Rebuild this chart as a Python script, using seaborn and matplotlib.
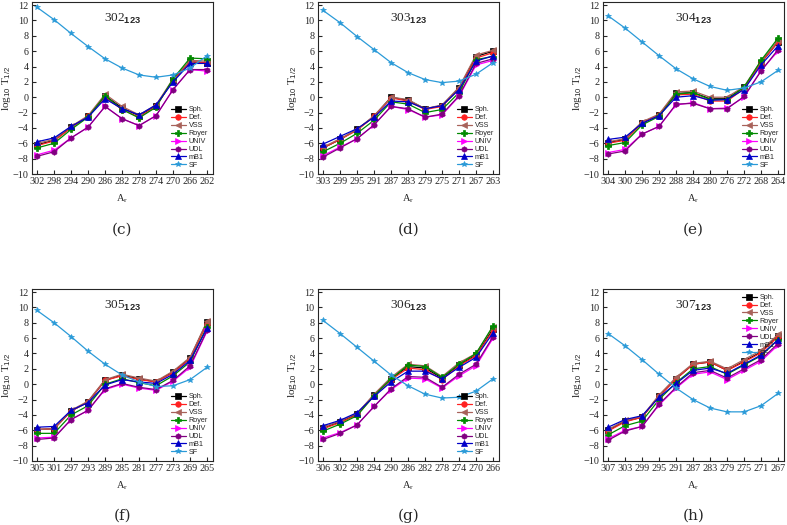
import numpy as np
import pandas as pd
import seaborn as sns
import matplotlib.pyplot as plt

models = ['Sph.', 'Def.', 'VSS', 'Royer', 'UNIV', 'UDL', 'mB1', 'SF']
colors = ['#000000', '#ff2020', '#a8625a', '#008a00', '#ff00ff', '#800080', '#0000c8', '#2a9ad8']
marks = ['s', 'o', '<', 'P', '>', 'h', '^', '*']

parents = [302, 303, 304, 305, 306, 307]
captions = ['(c)', '(d)', '(e)', '(f)', '(g)', '(h)']

# log10 T1/2 per model (A_r descending in steps of 4)
vals_302 = {
    'Sph.':  [-6.2, -5.6, -3.9, -2.5, 0.2, -1.4, -2.4, -1.1, 2.2, 4.6, 4.5],
    'Def.':  [-6.3, -5.7, -4.0, -2.5, 0.0, -1.6, -2.6, -1.2, 2.2, 4.6, 4.5],
    'VSS':   [-6.0, -5.5, -3.8, -2.4, 0.4, -1.2, -2.3, -1.0, 2.4, 4.8, 4.7],
    'Royer': [-6.6, -6.0, -4.2, -2.6, 0.2, -1.6, -2.7, -1.3, 2.4, 5.1, 5.0],
    'UNIV':  [-7.5, -6.9, -5.3, -3.9, -1.2, -2.8, -3.7, -2.4, 1.0, 3.6, 3.4],
    'UDL':   [-7.7, -7.1, -5.3, -3.9, -1.2, -2.8, -3.7, -2.4, 1.0, 3.6, 3.6],
    'mB1':   [-5.8, -5.3, -3.8, -2.6, -0.2, -1.5, -2.3, -1.0, 2.0, 4.4, 4.4],
    'SF':    [11.7, 10.1, 8.3, 6.6, 5.0, 3.8, 2.9, 2.6, 2.9, 3.8, 5.4],
}
vals_303 = {
    'Sph.':  [-6.6, -5.5, -4.2, -2.5, 0.0, -0.4, -1.5, -1.1, 1.2, 5.3, 6.0],
    'Def.':  [-6.6, -5.5, -4.3, -2.5, -0.1, -0.5, -1.6, -1.2, 1.1, 5.1, 5.8],
    'VSS':   [-6.5, -5.4, -4.2, -2.4, 0.0, -0.3, -1.5, -1.0, 1.3, 5.5, 6.1],
    'Royer': [-7.1, -6.0, -4.7, -3.0, -0.6, -0.9, -2.0, -1.6, 0.6, 4.9, 5.3],
    'UNIV':  [-7.6, -6.5, -5.4, -3.6, -1.2, -1.6, -2.6, -2.3, 0.1, 4.2, 4.8],
    'UDL':   [-7.8, -6.6, -5.4, -3.6, -1.2, -1.5, -2.6, -2.2, 0.2, 4.4, 5.0],
    'mB1':   [-6.1, -5.1, -4.1, -2.6, -0.5, -0.6, -1.5, -1.1, 1.0, 4.7, 5.4],
    'SF':    [11.3, 9.7, 7.9, 6.2, 4.5, 3.2, 2.3, 1.9, 2.1, 3.0, 4.5],
}
vals_304 = {
    'Sph.':  [-5.9, -5.5, -3.3, -2.3, 0.5, 0.6, -0.2, -0.2, 1.3, 4.5, 7.2],
    'Def.':  [-6.0, -5.6, -3.4, -2.3, 0.3, 0.4, -0.5, -0.5, 1.1, 4.5, 7.2],
    'VSS':   [-5.8, -5.4, -3.2, -2.2, 0.7, 0.8, 0.0, 0.0, 1.4, 4.7, 7.4],
    'Royer': [-6.3, -5.9, -3.6, -2.5, 0.4, 0.6, -0.3, -0.3, 1.3, 4.8, 7.7],
    'UNIV':  [-7.2, -6.8, -4.8, -3.8, -1.0, -0.7, -1.5, -1.4, 0.0, 3.5, 6.0],
    'UDL':   [-7.4, -7.0, -4.8, -3.8, -0.9, -0.8, -1.5, -1.5, 0.1, 3.4, 6.2],
    'mB1':   [-5.5, -5.2, -3.4, -2.4, 0.0, 0.2, -0.4, -0.3, 1.0, 4.2, 6.7],
    'SF':    [10.6, 9.0, 7.2, 5.4, 3.7, 2.4, 1.4, 0.9, 1.2, 2.0, 3.5],
}
vals_305 = {
    'Sph.':  [-5.9, -5.8, -3.5, -2.3, 0.5, 1.2, 0.7, 0.3, 1.6, 3.4, 8.1],
    'Def.':  [-5.9, -5.8, -3.5, -2.3, 0.5, 1.1, 0.6, 0.3, 1.5, 3.3, 7.9],
    'VSS':   [-5.9, -5.8, -3.4, -2.2, 0.6, 1.3, 0.8, 0.4, 1.7, 3.5, 8.2],
    'Royer': [-6.4, -6.4, -4.0, -2.8, 0.0, 0.7, 0.2, -0.2, 1.1, 2.9, 7.5],
    'UNIV':  [-7.0, -6.9, -4.6, -3.4, -0.7, 0.0, -0.5, -0.8, 0.4, 2.2, 6.9],
    'UDL':   [-7.2, -7.0, -4.6, -3.4, -0.6, 0.1, -0.4, -0.7, 0.5, 2.4, 7.0],
    'mB1':   [-5.6, -5.5, -3.4, -2.4, -0.1, 0.6, 0.3, 0.1, 1.3, 3.1, 7.3],
    'SF':    [9.6, 8.0, 6.2, 4.3, 2.6, 1.2, 0.3, -0.3, -0.2, 0.6, 2.2],
}
vals_306 = {
    'Sph.':  [-5.7, -4.9, -3.9, -1.4, 0.7, 2.3, 2.1, 0.8, 2.5, 3.8, 7.2],
    'Def.':  [-5.8, -5.0, -4.0, -1.5, 0.6, 2.1, 1.9, 0.6, 2.4, 3.7, 7.0],
    'VSS':   [-5.6, -4.8, -3.8, -1.3, 0.9, 2.6, 2.4, 1.0, 2.8, 4.0, 7.5],
    'Royer': [-6.1, -5.2, -4.1, -1.5, 0.7, 2.5, 2.3, 0.9, 2.6, 4.0, 7.6],
    'UNIV':  [-7.0, -6.3, -5.3, -2.9, -0.7, 0.8, 0.7, -0.5, 1.1, 2.4, 6.0],
    'UDL':   [-7.2, -6.4, -5.3, -2.9, -0.6, 1.0, 0.9, -0.4, 1.3, 2.6, 6.2],
    'mB1':   [-5.4, -4.7, -3.7, -1.6, 0.3, 1.7, 1.7, 0.7, 2.2, 3.5, 6.7],
    'SF':    [8.3, 6.6, 4.8, 3.0, 1.2, -0.2, -1.3, -1.8, -1.7, -0.9, 0.7],
}
vals_307 = {
    'Sph.':  [-6.0, -4.8, -4.3, -1.5, 0.7, 2.6, 2.9, 1.8, 3.0, 4.2, 6.3],
    'Def.':  [-6.1, -4.9, -4.3, -1.6, 0.7, 2.6, 2.9, 1.8, 2.9, 4.1, 6.2],
    'VSS':   [-5.9, -4.7, -4.2, -1.4, 0.9, 2.7, 3.0, 2.0, 3.2, 4.4, 6.5],
    'Royer': [-6.6, -5.4, -4.8, -2.0, 0.2, 2.0, 2.3, 1.3, 2.5, 3.7, 5.8],
    'UNIV':  [-7.1, -6.0, -5.5, -2.7, -0.5, 1.3, 1.6, 0.6, 1.8, 3.0, 5.1],
    'UDL':   [-7.3, -6.1, -5.5, -2.6, -0.4, 1.5, 1.8, 0.8, 2.0, 3.2, 5.3],
    'mB1':   [-5.6, -4.6, -4.1, -1.7, 0.1, 1.8, 2.1, 1.4, 2.6, 3.8, 5.8],
    'SF':    [6.6, 5.0, 3.2, 1.3, -0.5, -2.0, -3.1, -3.6, -3.6, -2.8, -1.2],
}
all_vals = [vals_302, vals_303, vals_304, vals_305, vals_306, vals_307]

sns.set_style('ticks')
plt.rcParams['font.family'] = ['Liberation Serif', 'DejaVu Serif']
plt.rcParams['mathtext.fontset'] = 'custom'
plt.rcParams['mathtext.rm'] = 'Liberation Sans'
plt.rcParams['mathtext.bf'] = 'Liberation Sans:bold'

fig = plt.figure(figsize=(7.87, 5.25), dpi=100)
W, H = 787, 525
lefts = [32, 318, 603]
tops = [2, 289]
aw, ah = 181, 172

pal = dict(zip(models, colors))
mk = dict(zip(models, marks))

for k, (par, vals) in enumerate(zip(parents, all_vals)):
    r, c = divmod(k, 3)
    ax = fig.add_axes([lefts[c] / W, 1 - (tops[r] + ah) / H, aw / W, ah / H])
    ar = [par - 4 * i for i in range(11)]
    df = pd.DataFrame([(m, a, v) for m in models for a, v in zip(ar, vals[m])],
                      columns=['model', 'Ar', 'logT'])
    sns.lineplot(data=df, x='Ar', y='logT', hue='model', style='model',
                 palette=pal, markers=mk, dashes=False, markersize=4,
                 linewidth=0.9, ax=ax, legend=True)
    for ln in ax.lines:
        ln.set_markeredgecolor(ln.get_color())
        ln.set_markeredgewidth(0.5)
    ax.set_xticks(ar)
    ax.set_xlim(par + 1.2, ar[-1] - 1.4)
    ax.set_ylim(-10, 12.4)
    ax.set_yticks(range(-10, 13, 2))
    ax.tick_params(direction='in', length=3, labelsize=7.3, width=0.8, pad=2.5)
    for s in ax.spines.values():
        s.set_linewidth(0.8)
    ax.set_xlabel(r'A$_\mathregular{r}$', fontsize=7.5, labelpad=4)
    ax.set_ylabel(r'log$_{10}$ T$_{1/2}$', fontsize=8, labelpad=0)
    ax.text(0.5, 0.9, r'$\mathregular{%d}_{\mathbf{123}}$' % par,
            transform=ax.transAxes, ha='center', va='center', fontsize=9.5)
    loc = 'upper right' if par == 307 else 'lower right'
    leg = ax.legend(loc=loc, frameon=False, handlelength=2.2,
                    labelspacing=0.12, handletextpad=0.3, borderaxespad=0.3,
                    prop={'family': 'Liberation Sans', 'size': 5.2})
    for h in leg.legend_handles:
        h.set_markeredgecolor(h.get_color())
        h.set_markersize(4)
        h.set_linestyle('-')
        h.set_linewidth(0.9)
    cy = tops[r] + ah + (56 if r == 0 else 55)
    fig.text((lefts[c] + aw / 2) / W, 1 - cy / H, captions[k],
             ha='center', va='center', fontsize=11, family='DejaVu Serif')

fig.savefig('out.png', dpi=100)
